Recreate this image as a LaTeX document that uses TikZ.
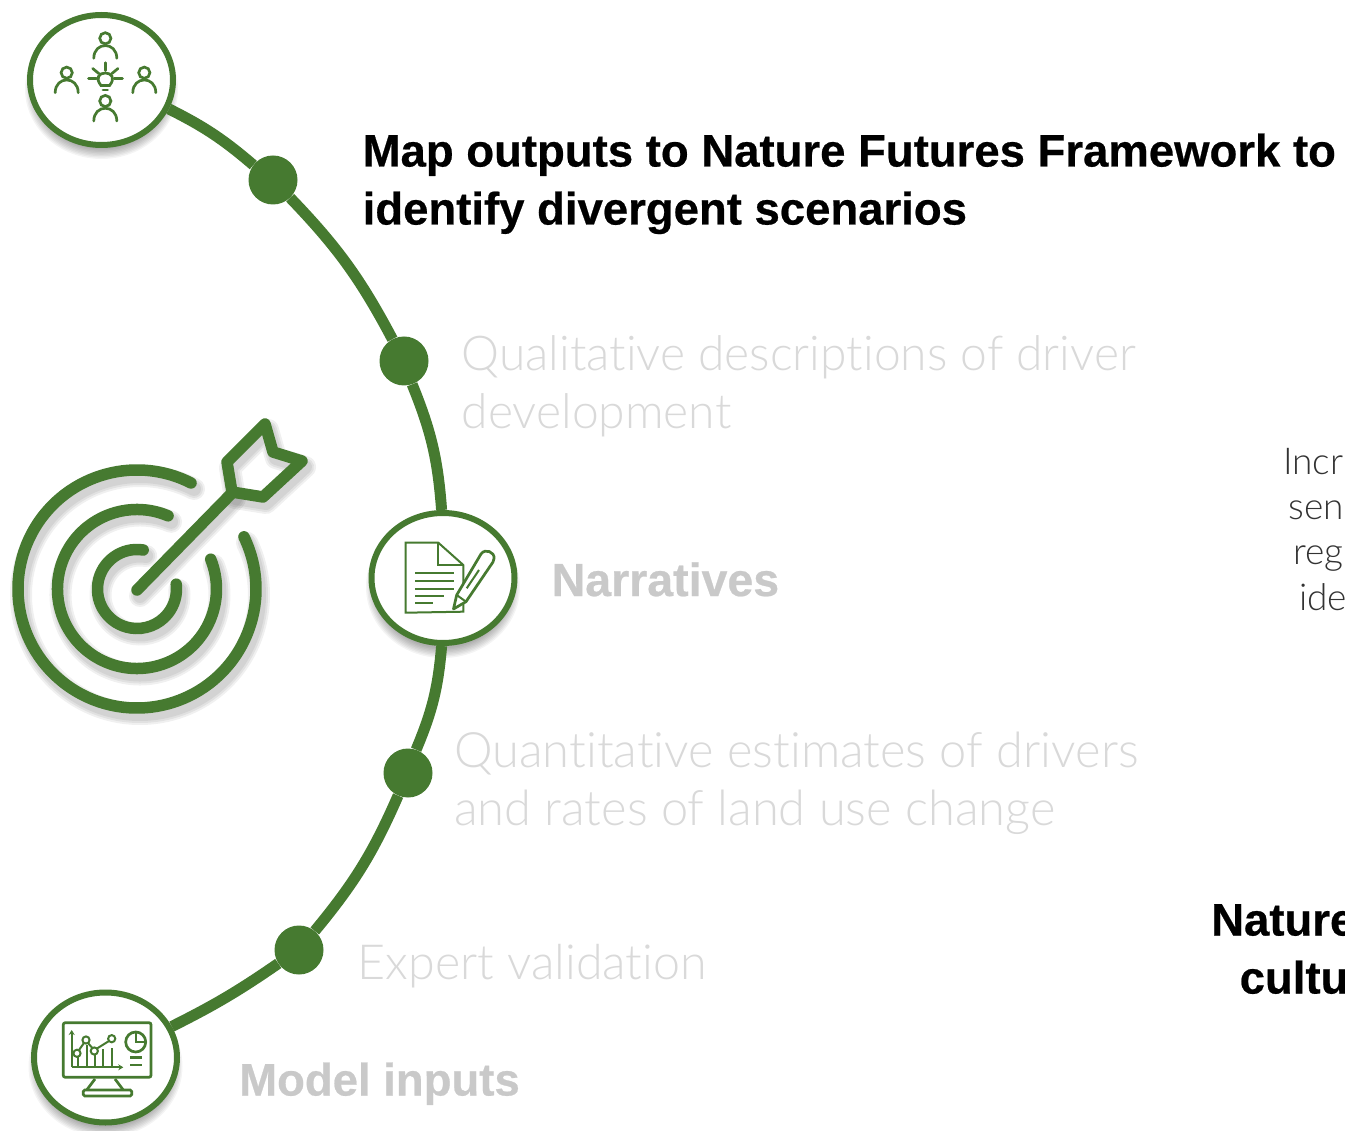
\documentclass[tikz,border=0pt]{standalone}
\usepackage{fontspec}
\setmainfont{Liberation Sans}
\newfontfamily\heavyfont[FakeBold=0.5]{Liberation Sans Bold}
\newfontfamily\lightfont[Ligatures=NoCommon]{Lato Light}
\usetikzlibrary{shapes.geometric,arrows.meta}
\definecolor{leaf}{HTML}{467A30}
\definecolor{palegrey}{HTML}{D9D9D9}
\definecolor{midgrey}{HTML}{C9C9C9}
\newcommand{\softshadow}[4]{%
  \foreach \k in {0,...,7}{
    \fill[black,opacity=0.045] (#1,#2+9) ellipse ({#3+5-1.4*\k} and {#4+5-1.4*\k});
  }}
\newcommand{\personicon}[2]{%
  \draw[iconline] (#1,#2) circle (5.6);
  \draw[iconline,line cap=round] (#1-11.5,#2+20) .. controls (#1-11.5,#2+3) and (#1+11.5,#2+3) .. (#1+11.5,#2+20);}
\newcommand{\targetpaths}[1]{%
  \draw[#1] (137,589) ++(-63:119) arc[start angle=-63,end angle=-386,radius=119];
  \draw[#1] (137,589) ++(-67:79.5) arc[start angle=-67,end angle=-382,radius=79.5];
  \draw[#1] (137,589) ++(-81:39.5) arc[start angle=-81,end angle=-367,radius=39.5];
  \draw[#1] (137,590) -- (232,493);
  \draw[#1,line join=round] (227,462) -- (265,424) -- (273,452) -- (302,461) -- (263,497) -- (232,492) -- cycle;}
\tikzset{
  iconline/.style={draw=leaf,line width=2.7},
  thinicon/.style={draw=leaf,line width=2},
  station/.style={shape=ellipse,draw=leaf,fill=white,line width=6,minimum width=143,minimum height=130,inner sep=0},
  waydot/.style={shape=circle,fill=leaf,minimum size=49,inner sep=0},
  linkline/.style={draw=leaf,line width=11},
  headtext/.style={anchor=base west,inner sep=0,align=left,text=black,font=\fontsize{45.5}{58}\selectfont\heavyfont},
  paletext/.style={anchor=base west,inner sep=0,align=left,text=palegrey,font=\fontsize{48}{58}\selectfont\lightfont},
  greybold/.style={anchor=base west,inner sep=0,text=midgrey,font=\fontsize{45.5}{58}\selectfont\heavyfont},
  sidelight/.style={anchor=base west,inner sep=0,text=black!80,font=\fontsize{37}{46}\selectfont\lightfont},
  sidebold/.style={anchor=base west,inner sep=0,text=black,font=\fontsize{45.5}{58}\selectfont\heavyfont},
}
\begin{document}
\begin{tikzpicture}[x=1pt,y=1pt,yscale=-1]
\useasboundingbox (0,0) rectangle (1345,1131);
\clip (0,0) rectangle (1345,1131);
\fill[white] (0,0) rectangle (1345,1131);
% shadows
\softshadow{101.5}{80}{71.5}{65}
\softshadow{443}{578}{72}{66}
\softshadow{105.5}{1057.5}{72}{65.5}
% target icon
\foreach \w in {22,18,14}{
  \begin{scope}[shift={(3,6)}]\targetpaths{draw=black,opacity=0.06,line width=\w,line cap=round}\end{scope}
}
\targetpaths{draw=leaf,line width=11.5,line cap=round}
% nodes
\node[station] (topstation) at (101.5,80) {};
\node[station] (midstation) at (443,578) {};
\node[station] (lowstation) at (105.5,1057.5) {};
\node[waydot] (dotA) at (273,180) {};
\node[waydot] (dotB) at (404,361) {};
\node[waydot] (dotC) at (408,773) {};
\node[waydot] (dotD) at (299,950) {};
% connectors
\draw[linkline] (topstation) to[bend right=7] (dotA);
\draw[linkline] (dotA) to[bend right=8] (dotB);
\draw[linkline] (dotB) to[bend right=9] (midstation);
\draw[linkline] (midstation) to[bend right=9] (dotC);
\draw[linkline] (dotC) to[bend right=8] (dotD);
\draw[linkline] (dotD) to[bend right=4] (lowstation);
% top icon
\personicon{105.3}{38.3}
\personicon{66.7}{72.7}
\personicon{144.3}{72.7}
\personicon{105.3}{101}
\draw[iconline] (101,85.5) .. controls (95,78) and (99,73) .. (105.3,73) .. controls (111.6,73) and (115.6,78) .. (109.6,85.5) -- cycle;
\draw[iconline,line cap=round] (103,90) -- (107.6,90);
\draw[iconline,line cap=round] (105.3,62.7) -- (105.3,70.5);
\draw[iconline,line cap=round] (88.5,78.5) -- (96.5,78.5);
\draw[iconline,line cap=round] (114,78.5) -- (122.5,78.5);
\draw[iconline,line cap=round] (92.7,68.5) -- (99,73.7);
\draw[iconline,line cap=round] (118,68.5) -- (111.7,73.7);
% document icon
\draw[thinicon] (405.7,542.7) -- (438.3,542.7) -- (463.3,565) -- (463.3,611.7) -- (405.7,612.7) -- cycle;
\draw[thinicon] (438.3,542.7) -- (438.3,565) -- (463.3,565);
\draw[thinicon,line width=2.2] (415,573.3) -- (454.3,573.3);
\draw[thinicon,line width=2.2] (415,581) -- (454.3,581);
\draw[thinicon,line width=2.2] (415,588.7) -- (454.3,588.7);
\draw[thinicon,line width=2.2] (415,596) -- (444.3,596);
\draw[thinicon,line width=2.2] (415,603.3) -- (433.3,603.3);
\draw[iconline,fill=white,line join=round] (453.5,609) -- (456.7,595) -- (481,554) .. controls (485,548) and (495,552) .. (494,558.5) .. controls (494,560) and (493.5,561) .. (493,562) -- (466,601.7) -- cycle;
\draw[thinicon] (466.7,588.3) -- (479,570);
\draw[thinicon] (456.7,595) -- (466,601.7);
% monitor icon
\draw[iconline,rounded corners=2] (63.3,1022.7) rectangle (151,1077.3);
\draw[iconline] (95,1079) -- (86.7,1090);
\draw[iconline] (115,1079) -- (123.3,1090);
\draw[iconline,rounded corners=1.5] (83.3,1090) rectangle (131.7,1096);
\draw[thinicon,-{Stealth[length=5,width=6]}] (71.7,1067.3) -- (71.7,1030);
\draw[thinicon,-{Stealth[length=5,width=6]}] (71.7,1067.3) -- (123.3,1067.3);
\draw[thinicon] (78.3,1067.3) -- (78.3,1057);
\draw[thinicon] (86.7,1067.3) -- (86.7,1045);
\draw[thinicon] (95,1067.3) -- (95,1055);
\draw[thinicon] (103.3,1067.3) -- (103.3,1049);
\draw[thinicon] (111.7,1067.3) -- (111.7,1048);
\draw[thinicon] (77,1053.3) circle (3.6);
\draw[thinicon] (86,1040) circle (3.6);
\draw[thinicon] (94.3,1051) circle (3.6);
\draw[thinicon] (111.7,1038.7) circle (3.6);
\draw[thinicon] (79,1050) -- (84,1043);
\draw[thinicon] (88,1043) -- (92.3,1048);
\draw[thinicon] (97,1048.5) -- (109,1041);
\draw[iconline] (135.7,1042) circle (10);
\draw[thinicon] (135.7,1032) -- (135.7,1042) -- (145.7,1042);
\draw[iconline] (130,1057.3) -- (142.3,1057.3);
\draw[iconline] (130,1065) -- (142.3,1065);
% texts
\node[headtext] (title) at (362.5,224.5) {Map outputs to Nature Futures Framework to\\identify divergent scenarios};
\node[paletext] (qualtext) at (461.5,429) {Qualitative descriptions of driver\\development};
\node[greybold,font=\fontsize{46.5}{58}\selectfont\heavyfont] (narrtext) at (551.5,596) {Narratives};
\node[paletext,font=\fontsize{48.8}{58}\selectfont\lightfont] (quanttext) at (454,825) {Quantitative estimates of drivers\\and rates of land use change};
\node[paletext,font=\fontsize{48.4}{58}\selectfont\lightfont] (experttext) at (357.5,979) {Expert validation};
\node[greybold] (modeltext) at (239,1095.5) {Model inputs};
\node[sidelight] (sideA) at (1283,475) {Incr};
\node[sidelight] (sideB) at (1288.5,520) {sen};
\node[sidelight] (sideC) at (1293,565) {reg};
\node[sidelight] (sideD) at (1299,610) {ide};
\node[sidebold] (sideE) at (1211,935.5) {Nature};
\node[sidebold] (sideF) at (1239.5,993.5) {cultu};
\end{tikzpicture}
\end{document}
